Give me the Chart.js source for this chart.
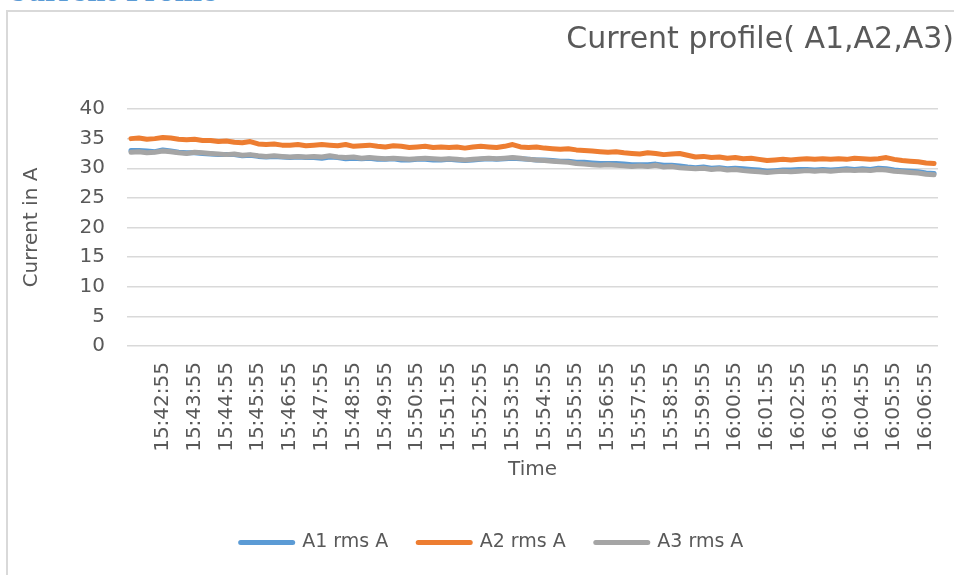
<!DOCTYPE html>
<html>
<head>
<meta charset="utf-8">
<script src="https://cdn.jsdelivr.net/npm/chart.js@4.4.1/dist/chart.umd.min.js"></script>
<style>
  html, body { margin: 0; padding: 0; background: #ffffff; width: 954px; height: 575px; overflow: hidden; }
  #heading { position: absolute; left: 7px; top: -20px; font: bold 25px/25px "DejaVu Serif", serif; color: #5b9bd5; white-space: nowrap; }
  #frame { position: absolute; left: 6px; top: 10px; width: 980px; height: 600px; border-left: 2px solid #d9d9d9; border-top: 2px solid #d9d9d9; }
  #wrap { position: absolute; left: 0; top: 0; width: 954px; height: 575px; }
</style>
</head>
<body>
<div id="heading">Current Profile</div>
<div id="frame"></div>
<div id="wrap"><canvas id="chart" width="954" height="575"></canvas></div>
<script>
// Sample times (every 15 s)
const timeLabels = [
  "15:41:55",
  "15:42:10","15:42:25","15:42:40","15:42:55",
  "15:43:10","15:43:25","15:43:40","15:43:55",
  "15:44:10","15:44:25","15:44:40","15:44:55",
  "15:45:10","15:45:25","15:45:40","15:45:55",
  "15:46:10","15:46:25","15:46:40","15:46:55",
  "15:47:10","15:47:25","15:47:40","15:47:55",
  "15:48:10","15:48:25","15:48:40","15:48:55",
  "15:49:10","15:49:25","15:49:40","15:49:55",
  "15:50:10","15:50:25","15:50:40","15:50:55",
  "15:51:10","15:51:25","15:51:40","15:51:55",
  "15:52:10","15:52:25","15:52:40","15:52:55",
  "15:53:10","15:53:25","15:53:40","15:53:55",
  "15:54:10","15:54:25","15:54:40","15:54:55",
  "15:55:10","15:55:25","15:55:40","15:55:55",
  "15:56:10","15:56:25","15:56:40","15:56:55",
  "15:57:10","15:57:25","15:57:40","15:57:55",
  "15:58:10","15:58:25","15:58:40","15:58:55",
  "15:59:10","15:59:25","15:59:40","15:59:55",
  "16:00:10","16:00:25","16:00:40","16:00:55",
  "16:01:10","16:01:25","16:01:40","16:01:55",
  "16:02:10","16:02:25","16:02:40","16:02:55",
  "16:03:10","16:03:25","16:03:40","16:03:55",
  "16:04:10","16:04:25","16:04:40","16:04:55",
  "16:05:10","16:05:25","16:05:40","16:05:55",
  "16:06:10","16:06:25","16:06:40","16:06:55",
  "16:07:10"
];

// Times printed on the x axis
const tickLabels = [
  "15:42:55","15:43:55","15:44:55","15:45:55","15:46:55","15:47:55","15:48:55",
  "15:49:55","15:50:55","15:51:55","15:52:55","15:53:55","15:54:55","15:55:55",
  "15:56:55","15:57:55","15:58:55","15:59:55","16:00:55","16:01:55","16:02:55",
  "16:03:55","16:04:55","16:05:55","16:06:55"
];

const seriesNames = ["A1 rms A", "A2 rms A", "A3 rms A"];

const a1Rms = [
  33.0, 33.0, 32.9, 32.8, 33.1, 32.9, 32.7, 32.6, 32.6, 32.5,
  32.4, 32.3, 32.3, 32.3, 32.1, 32.2, 32.0, 31.9, 32.0, 31.9,
  31.8, 31.9, 31.8, 31.8, 31.7, 31.9, 31.8, 31.6, 31.7, 31.6,
  31.7, 31.5, 31.5, 31.6, 31.4, 31.4, 31.5, 31.5, 31.4, 31.4,
  31.5, 31.4, 31.3, 31.4, 31.5, 31.6, 31.5, 31.6, 31.7, 31.6,
  31.5, 31.4, 31.4, 31.3, 31.2, 31.2, 31.0, 31.0, 30.9, 30.8,
  30.8, 30.8, 30.7, 30.6, 30.6, 30.6, 30.7, 30.5, 30.5, 30.4,
  30.2, 30.1, 30.2, 30.0, 30.1, 29.9, 30.0, 29.9, 29.8, 29.7,
  29.5, 29.6, 29.7, 29.7, 29.8, 29.8, 29.7, 29.8, 29.7, 29.8,
  29.9, 29.8, 29.9, 29.8, 30.0, 29.9, 29.7, 29.6, 29.5, 29.4,
  29.2, 29.1
];

const a2Rms = [
  35.0, 35.1, 34.9, 35.0, 35.2, 35.1, 34.9, 34.8, 34.9, 34.7,
  34.7, 34.5, 34.6, 34.4, 34.3, 34.5, 34.1, 34.0, 34.1, 33.9,
  33.9, 34.0, 33.8, 33.9, 34.0, 33.9, 33.8, 34.0, 33.7, 33.8,
  33.9, 33.7, 33.6, 33.8, 33.7, 33.5, 33.6, 33.7, 33.5, 33.6,
  33.5, 33.6, 33.4, 33.6, 33.7, 33.6, 33.5, 33.7, 34.0, 33.6,
  33.5, 33.6, 33.4, 33.3, 33.2, 33.3, 33.1, 33.0, 32.9, 32.8,
  32.7, 32.8, 32.6, 32.5, 32.4, 32.6, 32.5, 32.3, 32.4, 32.5,
  32.2, 31.9, 32.0, 31.8, 31.9, 31.7, 31.8, 31.6, 31.7, 31.5,
  31.3, 31.4, 31.5, 31.4, 31.5, 31.6, 31.5, 31.6, 31.5, 31.6,
  31.5, 31.7, 31.6, 31.5, 31.6, 31.8, 31.5, 31.3, 31.2, 31.1,
  30.9, 30.8
];

const a3Rms = [
  32.7, 32.8, 32.6, 32.7, 32.9, 32.8, 32.6, 32.5, 32.7, 32.6,
  32.5, 32.4, 32.3, 32.4, 32.2, 32.3, 32.1, 32.0, 32.1, 32.0,
  31.9, 32.0, 31.9, 32.0, 31.9, 32.1, 31.9, 31.8, 31.9, 31.7,
  31.8, 31.7, 31.6, 31.7, 31.6, 31.5, 31.6, 31.7, 31.6, 31.5,
  31.6, 31.5, 31.4, 31.5, 31.6, 31.7, 31.6, 31.7, 31.8, 31.7,
  31.5, 31.4, 31.3, 31.2, 31.1, 31.0, 30.8, 30.7, 30.6, 30.5,
  30.6, 30.5, 30.4, 30.3, 30.4, 30.3, 30.5, 30.2, 30.3, 30.1,
  30.0, 29.9, 30.0, 29.8, 29.9, 29.7, 29.8, 29.6, 29.5, 29.4,
  29.3, 29.4, 29.5, 29.4, 29.5, 29.6, 29.5, 29.6, 29.5, 29.6,
  29.7, 29.6, 29.7, 29.6, 29.8, 29.7, 29.5, 29.4, 29.3, 29.2,
  29.0, 28.9
];

const chartTitle = "Current profile( A1,A2,A3)";
const xTitle = "Time";
const yTitle = "Current in A";

const FONT = "'DejaVu Sans', sans-serif";
const TEXT = "#595959";
const GRID = "#d9d9d9";

function series(label, data, color, order) {
  return {
    label, data, order,
    borderColor: color, backgroundColor: color,
    pointBorderColor: color, pointBorderWidth: 5,
    borderWidth: 5, pointRadius: 0, pointHoverRadius: 0,
    tension: 0, borderCapStyle: "round", borderJoinStyle: "round"
  };
}

// Nudge the legend row so it sits under the plot like the rest of the layout
const legendShift = {
  id: "legendShift",
  afterLayout(chart) {
    if (chart.legend) { chart.legend.left += 7; chart.legend.right += 7; }
  }
};

new Chart(document.getElementById("chart"), {
  type: "line",
  data: {
    labels: timeLabels,
    datasets: [
      series(seriesNames[0], a1Rms, "#5b9bd5", 3),
      series(seriesNames[1], a2Rms, "#ed7d31", 2),
      series(seriesNames[2], a3Rms, "#a5a5a5", 1)
    ]
  },
  plugins: [legendShift],
  options: {
    responsive: false,
    animation: false,
    events: [],
    layout: { padding: { left: 16, right: 0, top: 0, bottom: 13 } },
    plugins: {
      title: {
        display: true, text: chartTitle, align: "end", color: TEXT,
        font: { family: FONT, size: 30, weight: "normal" },
        padding: { top: 22, bottom: 51 }
      },
      legend: {
        position: "bottom",
        labels: {
          usePointStyle: true, pointStyle: "line", pointStyleWidth: 52,
          color: TEXT, font: { family: FONT, size: 19 }, padding: 30,
          sort: (a, b) => a.datasetIndex - b.datasetIndex,
          generateLabels: (chart) =>
            Chart.defaults.plugins.legend.labels.generateLabels(chart)
              .map(item => Object.assign(item, { lineCap: "round", lineWidth: 5 }))
        }
      },
      tooltip: { enabled: false }
    },
    scales: {
      x: {
        offset: true,
        grid: { display: false, drawTicks: false },
        border: { display: false },
        ticks: {
          autoSkip: false, minRotation: 90, maxRotation: 90, padding: 16,
          color: TEXT, font: { family: FONT, size: 20 },
          callback: function (value) {
            const label = this.getLabelForValue(value);
            return tickLabels.includes(label) ? label : null;
          }
        },
        title: {
          display: true, text: xTitle, color: TEXT,
          font: { family: FONT, size: 20 }, padding: { top: 4, bottom: 21 }
        },
        afterFit: (scale) => {
          scale.height = 157;
          scale.paddingLeft = 0;
          scale.paddingRight = 16;
        }
      },
      y: {
        min: 0, max: 40,
        ticks: { stepSize: 5, padding: 22, color: TEXT, font: { family: FONT, size: 20 } },
        grid: { color: GRID, lineWidth: 1.5, drawTicks: false },
        border: { display: false },
        title: {
          display: true, text: yTitle, color: TEXT,
          font: { family: FONT, size: 20 }, padding: { top: 4, bottom: 4 }
        },
        afterFit: (scale) => { scale.width = 111; }
      }
    }
  }
});
</script>
</body>
</html>
